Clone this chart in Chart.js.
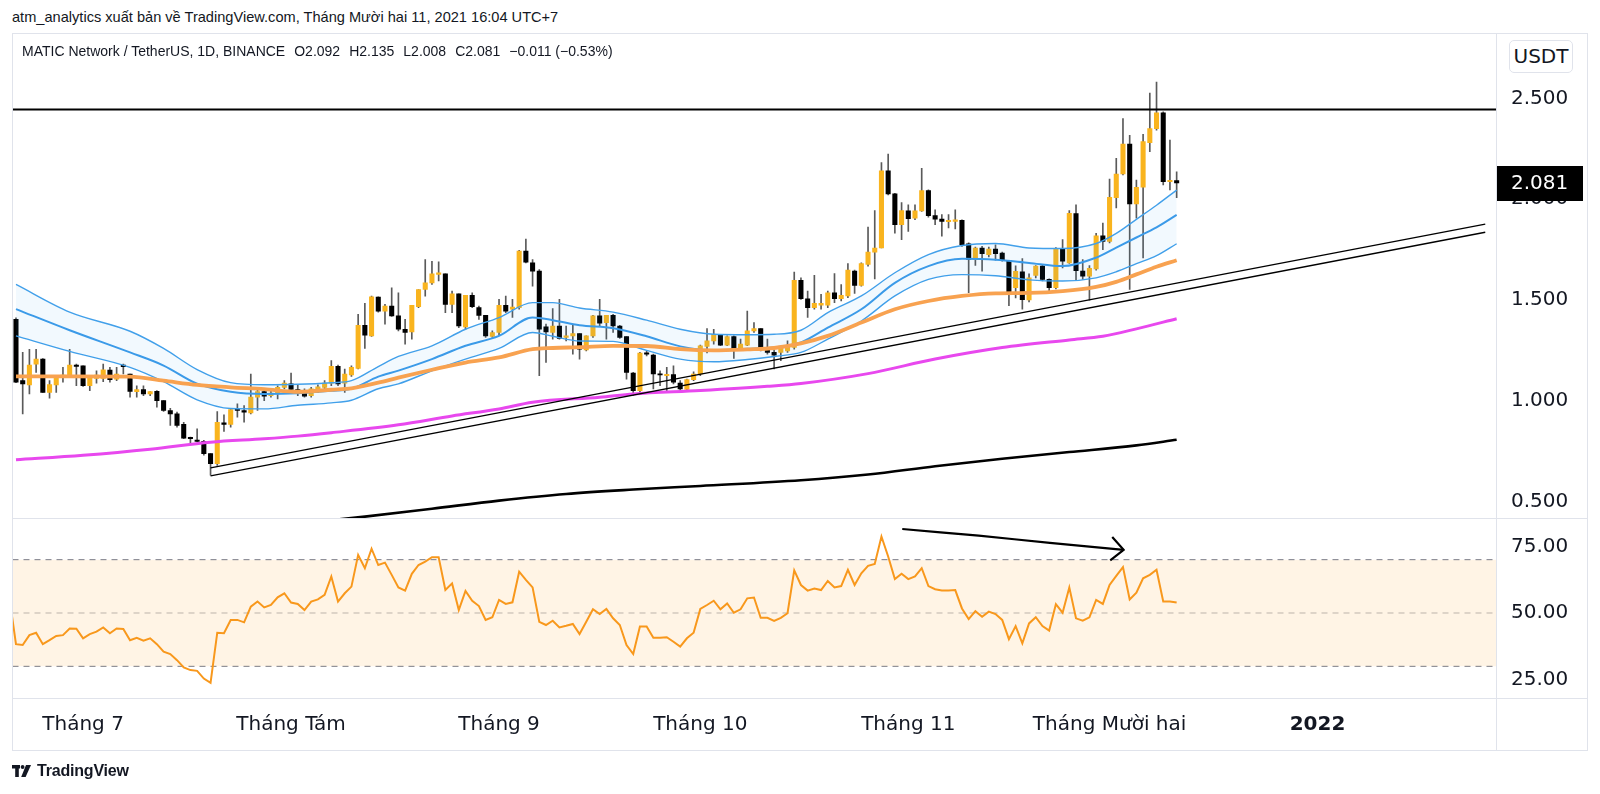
<!DOCTYPE html>
<html>
<head>
<meta charset="utf-8">
<script src="https://cdn.jsdelivr.net/npm/chart.js@4.4.1/dist/chart.umd.min.js"></script>
<style>
html,body{margin:0;padding:0;background:#fff;}
body{width:1600px;height:794px;position:relative;overflow:hidden;font-family:'Liberation Sans',Arial,sans-serif;color:#131722;}
#title{position:absolute;left:12px;top:9px;font-size:14.6px;white-space:nowrap;}
#legend{position:absolute;left:22px;top:43px;font-size:14px;white-space:nowrap;z-index:3;}
#legend span{margin-left:9px;}
.ln{position:absolute;background:#e0e3eb;z-index:2;}
#usdt{position:absolute;left:1509px;top:40px;width:62px;height:31px;border:1px solid #e0e3eb;border-radius:5px;font:20px 'DejaVu Sans',sans-serif;line-height:31px;text-align:center;background:#fff;z-index:3;}
#cA{position:absolute;left:0;top:0;}
#cB{position:absolute;left:0;top:518px;}
#logo{position:absolute;left:12px;top:762px;display:flex;align-items:center;font-size:16px;font-weight:600;letter-spacing:-0.2px;}
#logo svg{margin-right:6px;}
</style>
</head>
<body>
<div id="title">atm_analytics xuất bản về TradingView.com, Tháng Mười hai 11, 2021 16:04 UTC+7</div>
<div id="legend">MATIC Network / TetherUS, 1D, BINANCE<span>O2.092</span><span>H2.135</span><span>L2.008</span><span>C2.081</span><span>−0.011 (−0.53%)</span></div>
<div id="usdt">USDT</div>
<canvas id="cA" width="1600" height="518"></canvas>
<canvas id="cB" width="1600" height="276"></canvas>
<div class="ln" style="left:12px;top:33px;width:1575px;height:1px;"></div>
<div class="ln" style="left:12px;top:750px;width:1575px;height:1px;"></div>
<div class="ln" style="left:12px;top:33px;width:1px;height:718px;"></div>
<div class="ln" style="left:1587px;top:33px;width:1px;height:718px;"></div>
<div class="ln" style="left:1496px;top:33px;width:1px;height:718px;"></div>
<div class="ln" style="left:12px;top:518px;width:1575px;height:1px;"></div>
<div class="ln" style="left:12px;top:698px;width:1575px;height:1px;"></div>
<div id="logo"><svg width="19" height="12" viewBox="0 0 19 12"><rect x="0" y="0" width="8" height="3.5" fill="#131722"/><rect x="3.2" y="0" width="3.6" height="12" fill="#131722"/><circle cx="10.6" cy="2" r="1.9" fill="#131722"/><polygon points="14,0 19,0 13.6,12 9.2,12" fill="#131722"/></svg>TradingView</div>
<script>
// ---------- DATA ----------
const OPEN = [1.404,1.100,1.079,1.182,1.207,1.042,1.079,1.121,1.125,1.177,
1.174,1.075,1.111,1.111,1.153,1.108,1.177,1.133,1.046,1.056,
1.034,1.047,1.001,0.952,0.935,0.883,0.815,0.804,0.799,0.738,
0.689,0.891,0.883,0.957,0.952,0.940,1.018,1.046,1.026,1.034,
1.067,1.084,1.056,1.049,1.026,1.051,1.067,1.088,1.171,1.088,
1.128,1.161,1.375,1.322,1.514,1.445,1.470,1.421,1.355,1.342,
1.467,1.552,1.585,1.627,1.630,1.478,1.531,1.367,1.523,1.462,
1.424,1.319,1.339,1.473,1.454,1.462,1.742,1.684,1.643,1.367,
1.339,1.371,1.314,1.322,1.334,1.253,1.322,1.421,1.388,1.424,
1.371,1.319,1.138,1.051,1.237,1.227,1.133,1.125,1.130,1.088,
1.056,1.105,1.133,1.270,1.297,1.325,1.276,1.319,1.260,1.276,
1.347,1.358,1.264,1.240,1.240,1.248,1.265,1.598,1.506,1.462,
1.474,1.474,1.536,1.506,1.520,1.643,1.572,1.676,1.737,1.758,
2.141,2.026,1.873,1.942,1.906,1.942,2.043,1.918,1.901,1.888,
1.890,1.895,1.779,1.701,1.758,1.725,1.753,1.733,1.697,1.561,
1.640,1.500,1.622,1.668,1.602,1.561,1.753,1.684,1.928,1.643,
1.618,1.654,1.818,1.791,2.008,2.125,2.273,1.977,2.059,2.280,
2.350,2.428,2.087,2.092];
const HIGH = [1.412,1.240,1.256,1.256,1.210,1.100,1.125,1.166,1.256,1.182,
1.174,1.125,1.149,1.182,1.166,1.166,1.182,1.133,1.075,1.075,
1.046,1.051,1.001,0.963,0.944,0.894,0.820,0.861,0.804,0.738,
0.947,0.931,0.963,0.985,0.977,1.133,1.059,1.051,1.051,1.075,
1.100,1.138,1.079,1.059,1.067,1.079,1.100,1.199,1.177,1.158,
1.174,1.429,1.483,1.519,1.516,1.478,1.560,1.536,1.404,1.473,
1.552,1.700,1.692,1.689,1.630,1.544,1.531,1.523,1.536,1.470,
1.424,1.347,1.503,1.519,1.503,1.746,1.802,1.700,1.651,1.380,
1.457,1.503,1.371,1.376,1.334,1.322,1.424,1.503,1.424,1.429,
1.375,1.319,1.141,1.240,1.248,1.232,1.149,1.166,1.174,1.100,
1.108,1.144,1.276,1.358,1.355,1.325,1.322,1.322,1.306,1.445,
1.388,1.358,1.306,1.253,1.265,1.298,1.638,1.610,1.544,1.622,
1.528,1.544,1.631,1.577,1.681,1.648,1.684,1.862,1.944,2.181,
2.224,2.029,1.983,1.972,1.972,2.153,2.046,1.947,1.923,1.923,
1.947,1.898,1.783,1.763,1.766,1.763,1.774,1.737,1.697,1.670,
1.706,1.630,1.671,1.673,1.605,1.760,1.800,1.944,1.972,1.700,
1.671,1.830,1.881,2.100,2.202,2.400,2.317,2.095,2.322,2.526,
2.581,2.433,2.293,2.135];
const LOW = [1.090,0.935,1.034,1.141,1.042,1.013,1.042,1.092,1.116,1.075,
1.072,1.051,1.088,1.095,1.092,1.100,1.133,1.018,1.018,1.026,
1.026,0.968,0.947,0.878,0.870,0.812,0.787,0.796,0.730,0.631,
0.680,0.848,0.870,0.919,0.894,0.935,0.952,1.001,1.018,1.010,
1.059,1.046,1.026,1.018,1.018,1.042,1.059,1.075,1.075,1.042,
1.121,1.158,1.260,1.319,1.440,1.380,1.418,1.347,1.281,1.306,
1.462,1.519,1.577,1.594,1.437,1.437,1.363,1.355,1.462,1.404,
1.314,1.314,1.325,1.437,1.413,1.454,1.684,1.569,1.125,1.190,
1.306,1.306,1.297,1.232,1.207,1.248,1.314,1.371,1.306,1.339,
1.309,1.108,1.026,1.042,1.223,1.059,1.075,1.042,1.084,1.051,
1.051,1.100,1.125,1.237,1.281,1.273,1.273,1.210,1.253,1.273,
1.339,1.248,1.232,1.158,1.199,1.240,1.256,1.503,1.413,1.454,
1.454,1.462,1.487,1.495,1.511,1.533,1.569,1.668,1.605,1.758,
2.021,1.832,1.799,1.840,1.898,1.939,1.911,1.873,1.816,1.857,
1.852,1.766,1.536,1.671,1.643,1.714,1.697,1.692,1.472,1.510,
1.454,1.490,1.610,1.594,1.533,1.555,1.659,1.681,1.596,1.602,
1.499,1.648,1.750,1.783,1.956,2.120,1.553,1.906,1.709,2.235,
2.342,2.071,2.046,2.008];
const CLOSE = [1.092,1.084,1.177,1.207,1.042,1.080,1.116,1.128,1.177,1.171,
1.075,1.111,1.128,1.154,1.105,1.133,1.170,1.047,1.056,1.034,
1.046,1.001,0.952,0.935,0.878,0.815,0.812,0.799,0.738,0.689,
0.894,0.883,0.957,0.952,0.944,1.018,1.046,1.023,1.039,1.067,
1.088,1.056,1.049,1.023,1.059,1.070,1.088,1.171,1.084,1.133,
1.166,1.375,1.325,1.516,1.445,1.470,1.421,1.355,1.339,1.473,
1.552,1.585,1.630,1.635,1.478,1.531,1.371,1.523,1.467,1.424,
1.322,1.339,1.473,1.445,1.465,1.742,1.687,1.643,1.355,1.342,
1.371,1.309,1.322,1.334,1.256,1.322,1.421,1.385,1.424,1.371,
1.314,1.141,1.051,1.237,1.232,1.133,1.128,1.130,1.092,1.059,
1.105,1.133,1.273,1.297,1.330,1.276,1.319,1.260,1.281,1.347,
1.358,1.264,1.240,1.227,1.265,1.273,1.598,1.506,1.462,1.483,
1.483,1.536,1.506,1.523,1.648,1.572,1.681,1.738,1.758,2.141,
2.026,1.873,1.944,1.903,1.942,2.043,1.918,1.901,1.890,1.893,
1.898,1.774,1.701,1.758,1.730,1.753,1.730,1.697,1.530,1.642,
1.502,1.610,1.668,1.602,1.561,1.753,1.692,1.930,1.645,1.618,
1.657,1.818,1.791,2.009,2.125,2.273,1.977,2.059,2.285,2.350,
2.428,2.087,2.092,2.081];

// indicator lines (day index -> value)
const RIB_X   = [0,8,17,22,27,32,37,42,47,50,54,57,62,67,72,77,80,84,89,94,99,104,109,113,117,121,126,131,136,141,146,151,156,161,164,167,170,173];
const RIB_UP  = [1.577,1.44,1.345,1.26,1.155,1.09,1.08,1.082,1.09,1.10,1.17,1.22,1.273,1.355,1.413,1.487,1.487,1.46,1.44,1.40,1.355,1.33,1.328,1.33,1.35,1.437,1.52,1.635,1.725,1.77,1.78,1.758,1.755,1.78,1.83,1.90,1.97,2.045];
const RIB_MID = [1.455,1.35,1.24,1.175,1.085,1.045,1.034,1.038,1.05,1.06,1.12,1.15,1.207,1.273,1.322,1.413,1.40,1.375,1.36,1.32,1.27,1.25,1.258,1.265,1.29,1.363,1.454,1.585,1.668,1.704,1.70,1.684,1.668,1.71,1.76,1.81,1.86,1.922];
const RIB_LOW = [1.322,1.245,1.166,1.095,1.005,0.962,0.96,0.978,0.99,1.003,1.06,1.084,1.149,1.207,1.26,1.339,1.32,1.297,1.295,1.25,1.207,1.194,1.205,1.22,1.24,1.306,1.396,1.52,1.602,1.626,1.62,1.60,1.594,1.61,1.64,1.68,1.72,1.779];
const EMA_ORANGE = [1.121,1.121,1.12,1.10,1.079,1.067,1.058,1.045,1.055,1.062,1.09,1.115,1.154,1.19,1.215,1.256,1.262,1.266,1.273,1.272,1.256,1.25,1.255,1.262,1.285,1.322,1.388,1.454,1.495,1.52,1.533,1.535,1.544,1.565,1.59,1.627,1.665,1.697];
const MAG_X = [0,10,20,29,37,42,47,57,65,72,77,87,92,102,112,117,127,137,147,157,162,167,173];
const EMA_MAGENTA = [0.708,0.73,0.76,0.795,0.812,0.825,0.842,0.881,0.925,0.96,0.993,1.018,1.034,1.051,1.072,1.086,1.135,1.207,1.264,1.302,1.32,1.357,1.407];
const BLK_X = [46,52,62,72,82,92,102,117,127,137,147,157,167,173];
const EMA_BLACK = [0.405,0.426,0.465,0.505,0.538,0.56,0.578,0.606,0.635,0.676,0.713,0.746,0.779,0.807];

// drawings
const TREND_X = [29,219];
const TREND_TOP = [0.668,1.876];
const TREND_BOT = [0.628,1.836];
const RESIST = 2.445;

// RSI (first value is the day before the first candle)
const RSI_FIRST_DAY = -1;
const RSI = [56,38.3,38.0,41.7,42.6,38.3,39.8,41.4,41.7,44.2,44.1,
40.5,42.1,43.0,44.6,42.4,44.2,44.0,39.8,40.7,39.6,
40.5,38.3,35.5,34.6,32.3,29.6,28.6,28.3,25.4,23.8,
42.6,42.4,47.4,47.4,46.5,52.4,54.3,52.1,53.0,55.9,
57.4,53.9,53.4,51.1,54.3,55.1,56.8,63.7,54.3,57.4,
59.9,71.8,66.8,74.1,68.0,68.9,64.3,59.6,58.4,64.7,
68.0,69.3,70.9,70.9,58.6,61.1,51.1,58.3,54.6,52.6,
47.4,48.4,54.9,53.4,54.0,65.5,62.4,59.6,46.7,45.5,
47.1,44.6,45.2,45.9,42.1,46.7,51.4,49.6,51.5,48.0,
45.5,38.0,34.6,44.9,44.9,40.7,40.7,40.9,39.2,37.4,
40.5,42.6,51.5,53.0,54.6,51.4,53.6,50.1,51.4,55.5,
55.8,48.2,48.2,47.0,48.2,49.9,66.0,60.5,58.4,59.2,
58.6,62.0,59.6,60.1,66.2,60.5,64.9,67.7,68.4,78.7,
71.2,62.7,64.7,62.7,63.7,66.8,60.1,58.9,58.4,58.4,
58.6,51.7,47.7,50.7,48.6,50.5,49.6,47.4,40.2,45.1,
38.6,46.1,48.4,45.1,43.4,53.3,50.1,59.6,48.0,47.1,
48.4,54.9,53.4,60.5,63.9,67.2,55.1,57.6,63.0,64.3,
66.2,54.3,54.3,53.9];
const RSI_LEVELS = [70,50,30];
const ARROW_X = [132.1,143.5,154.1,165.1];
const ARROW_Y = [81.5,79.0,76.3,73.7];
const HEAD_X = [163.4,165.1,163.1];
const HEAD_Y = [78.5,73.7,69.7];

// axes
const MONTH_DAYS = [10,41,72,102,133,163,194];
const MONTH_LABELS = ['Tháng 7','Tháng Tám','Tháng 9','Tháng 10','Tháng 11','Tháng Mười hai','2022'];
const PRICE_TICKS = [0.5,1.0,1.5,2.0,2.5];
const RSI_TICKS = [25,50,75];
const X_MIN = -0.52, X_MAX = 220.6;
const PRICE_MIN = 0.419, PRICE_MAX = 2.819;
const RSI_MIN = 18.12, RSI_MAX = 85.63;

// ---------- CHARTS ----------
const UP = '#f9b41e', DOWN = '#000000', WICK = '#5a5a5a';
const AXIS_FONT = {family:'DejaVu Sans', size:20};
const pts = (xs, ys) => xs.map((x, k) => ({x: x, y: ys[k]}));
const DAYS = OPEN.map((_, i) => i);
const LAST = CLOSE[CLOSE.length - 1];

const lastLabel = {
  id: 'lastLabel',
  afterDraw(chart) {
    const ctx = chart.ctx, y = Math.round(chart.scales.y.getPixelForValue(LAST));
    const left = chart.chartArea.right;
    ctx.save();
    ctx.fillStyle = '#000';
    ctx.fillRect(left, y - 17, 87, 35);
    ctx.fillStyle = '#fff';
    ctx.font = '20px "DejaVu Sans"';
    ctx.textBaseline = 'middle';
    ctx.textAlign = 'left';
    ctx.fillText(LAST.toFixed(3), left + 15, y + 1);
    ctx.restore();
  }
};

function lineDs(data, color, width, order, extra) {
  return Object.assign({type:'line', data: data, borderColor: color, borderWidth: width,
    pointRadius: 0, fill: false, cubicInterpolationMode: 'monotone', order: order}, extra || {});
}

new Chart(document.getElementById('cA'), {
  type: 'bar',
  data: { datasets: [
    { data: DAYS.map(i => ({x:i, y:[OPEN[i], CLOSE[i]]})), backgroundColor: DAYS.map(i => CLOSE[i] >= OPEN[i] ? UP : DOWN),
      barThickness: 4.4, minBarLength: 1.3, grouped: false, order: 5 },
    { data: DAYS.map(i => ({x:i, y:[LOW[i], HIGH[i]]})), backgroundColor: WICK,
      barThickness: 1, grouped: false, order: 6 },
    lineDs(pts(RIB_X, RIB_UP), '#42a0ea', 1.4, 3, {fill: 4, backgroundColor: 'rgba(33,150,243,0.06)'}),
    lineDs(pts(RIB_X, RIB_MID), '#3d9be8', 2, 3),
    lineDs(pts(RIB_X, RIB_LOW), '#42a0ea', 1.4, 3),
    lineDs(pts(RIB_X, EMA_ORANGE), '#f8a250', 3.8, 2),
    lineDs(pts(MAG_X, EMA_MAGENTA), '#e848ee', 3, 2),
    lineDs(pts(BLK_X, EMA_BLACK), '#000000', 2.6, 2),
    lineDs(pts(TREND_X, TREND_TOP), '#000000', 1.3, 0, {cubicInterpolationMode:'default', tension:0}),
    lineDs(pts(TREND_X, TREND_BOT), '#000000', 1.3, 0, {cubicInterpolationMode:'default', tension:0}),
    lineDs([{x:X_MIN, y:RESIST},{x:X_MAX, y:RESIST}], '#000000', 2, 0, {cubicInterpolationMode:'default', tension:0})
  ]},
  options: {
    responsive: false, animation: false, devicePixelRatio: 1,
    layout: { padding: { left: 12.5, top: 34, right: 0, bottom: 0 } },
    plugins: { legend: {display:false}, tooltip: {enabled:false} },
    scales: {
      x: { type:'linear', min:X_MIN, max:X_MAX, display:false, offset:false },
      y: { position:'right', min:PRICE_MIN, max:PRICE_MAX,
           grid:{display:false, drawTicks:false}, border:{display:false},
           afterBuildTicks: s => { s.ticks = PRICE_TICKS.map(v => ({value:v})); },
           afterFit: s => { s.width = 104; s.paddingTop = 0; s.paddingBottom = 0; },
           ticks: { padding: 15, color:'#131722', font: AXIS_FONT, callback: v => Number(v).toFixed(3) } }
    }
  },
  plugins: [lastLabel]
});

new Chart(document.getElementById('cB'), {
  type: 'line',
  data: { datasets: [
    lineDs(pts(RSI.map((_, k) => k + RSI_FIRST_DAY), RSI), '#f8981c', 2, 1, {cubicInterpolationMode:'default', tension:0}),
    lineDs([{x:X_MIN,y:RSI_LEVELS[0]},{x:X_MAX,y:RSI_LEVELS[0]}], '#787b86', 1, 3, {borderDash:[6,5], fill:3, backgroundColor:'rgba(255,152,0,0.1)', tension:0}),
    lineDs([{x:X_MIN,y:RSI_LEVELS[1]},{x:X_MAX,y:RSI_LEVELS[1]}], 'rgba(120,123,134,0.55)', 1, 3, {borderDash:[6,5], tension:0}),
    lineDs([{x:X_MIN,y:RSI_LEVELS[2]},{x:X_MAX,y:RSI_LEVELS[2]}], '#787b86', 1, 3, {borderDash:[6,5], tension:0}),
    lineDs(pts(ARROW_X, ARROW_Y), '#000000', 2.2, 0, {tension:0.3, cubicInterpolationMode:'default'}),
    lineDs(pts(HEAD_X, HEAD_Y), '#000000', 2.2, 0, {tension:0, cubicInterpolationMode:'default'})
  ]},
  options: {
    responsive: false, animation: false, devicePixelRatio: 1,
    layout: { padding: { left: 12.5, top: 0, right: 0, bottom: 0 } },
    plugins: { legend: {display:false}, tooltip: {enabled:false} },
    scales: {
      x: { type:'linear', min:X_MIN, max:X_MAX, offset:false,
           grid:{display:false, drawTicks:false}, border:{display:false},
           afterBuildTicks: s => { s.ticks = MONTH_DAYS.map(v => ({value:v})); },
           afterFit: s => { s.height = 96; s.paddingLeft = 0; s.paddingRight = 0; },
           ticks: { autoSkip:false, maxRotation:0, padding: 15, color:'#131722',
             font: c => ({family:'DejaVu Sans', size:20, weight: (c.tick && c.tick.value === 194) ? 'bold' : 'normal'}),
             callback: v => MONTH_LABELS[MONTH_DAYS.indexOf(v)] } },
      y: { position:'right', min:RSI_MIN, max:RSI_MAX,
           grid:{display:false, drawTicks:false}, border:{display:false},
           afterBuildTicks: s => { s.ticks = RSI_TICKS.map(v => ({value:v})); },
           afterFit: s => { s.width = 104; s.paddingTop = 0; s.paddingBottom = 0; },
           ticks: { padding: 15, color:'#131722', font: AXIS_FONT, callback: v => Number(v).toFixed(2) } }
    }
  }
});
</script>
</body>
</html>
